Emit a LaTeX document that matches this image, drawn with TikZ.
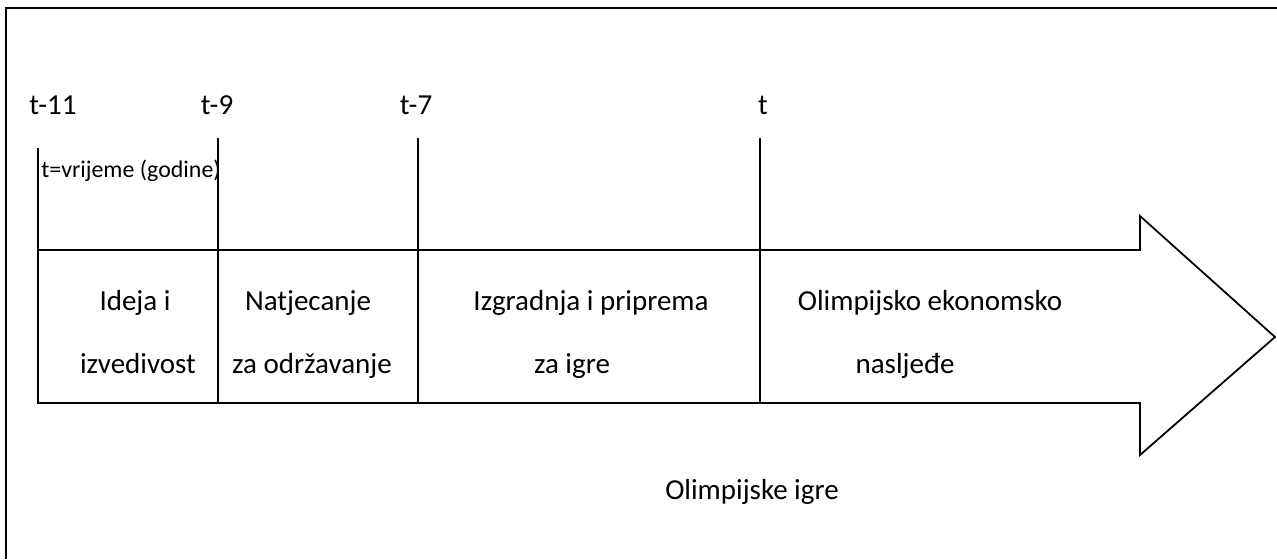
\documentclass[tikz,border=0pt]{standalone}
\usepackage{fontspec}
\setmainfont{Carlito}
\usepackage{tikz}

\begin{document}
\begin{tikzpicture}[x=0.02cm,y=-0.02cm]
\tikzset{lbl/.style={black,inner sep=0pt,anchor=base,font=\fontsize{16.5}{20}\selectfont},
         small/.style={black,inner sep=0pt,anchor=base,font=\fontsize{13.6}{16}\selectfont},
         thinline/.style={black,line width=1pt}}
\useasboundingbox (0,0) rectangle (1277,559);
\draw[black][line width=1.4pt](1277,8)--(6,8)--(6,559);
% arrow
\draw[thinline](38,250)--(1140,250)--(1140,216)--(1275,337)--(1140,455)--(1140,403)--(38,403)--cycle;
\draw[thinline](38,148)--(38,403);
\draw[thinline](218,138)--(218,403);
\draw[thinline](418,138)--(418,403);
\draw[thinline](760,138)--(760,403);
% years
\node (t11) at (53,114) [lbl]{t-11};
\node (t9) at (217,114) [lbl]{t-9};
\node (t7) at (416,114) [lbl]{t-7};
\node (t0) at (763,114) [lbl]{t};
\node (unit) at (131,177) [small]{t=vrijeme (godine)};
% phases
\node (ideja) at (135,310) [lbl]{Ideja i};
\node (izved) at (138,373) [lbl]{izvedivost};
\node (natj) at (308,310) [lbl]{Natjecanje};
\node (odrz) at (312,373) [lbl]{za održavanje};
\node (izgr) at (591,310) [lbl]{Izgradnja i priprema};
\node (igre) at (572,373) [lbl]{za igre};
\node (olek) at (930,310) [lbl]{Olimpijsko ekonomsko};
\node (nasl) at (905,373) [lbl]{nasljeđe};
\node (oi) at (752,499) [lbl]{Olimpijske igre};
\end{tikzpicture}
\end{document}
